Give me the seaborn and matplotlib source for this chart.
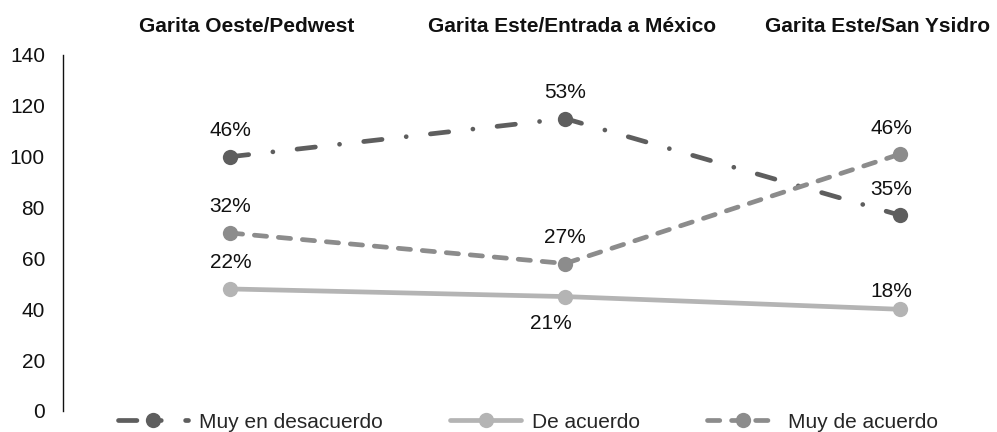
import matplotlib
matplotlib.use("Agg")
import matplotlib.pyplot as plt
import seaborn as sns
import pandas as pd

sns.set_style("white")
plt.rcParams["font.family"] = ["Liberation Sans", "DejaVu Sans"]

categories = ["Garita Oeste/Pedwest", "Garita Este/Entrada a México", "Garita Este/San Ysidro"]
muy_desacuerdo = [100, 115, 77]
de_acuerdo = [48, 45, 40]
muy_acuerdo = [70, 58, 101]
labels_desacuerdo = ["46%", "53%", "35%"]
labels_de_acuerdo = ["22%", "21%", "18%"]
labels_muy_acuerdo = ["32%", "27%", "46%"]

series = [
    ("Muy en desacuerdo", muy_desacuerdo, labels_desacuerdo, "#5e5e5e", (3.9, 5.15, 0.01, 5.15)),
    ("De acuerdo", de_acuerdo, labels_de_acuerdo, "#b4b4b4", None),
    ("Muy de acuerdo", muy_acuerdo, labels_muy_acuerdo, "#8c8c8c", (2.6, 2.5)),
]

fig = plt.figure(figsize=(9.97, 4.32), dpi=100)
ax = fig.add_axes([63 / 997, 21 / 432, 1 - 63 / 997, 356 / 432])

x = list(range(len(categories)))
for name, vals, _, color, dash in series:
    df = pd.DataFrame({"x": x, "y": vals})
    kw = dict(color=color, linewidth=3.4, marker="o", markersize=11,
              markeredgewidth=0, dash_capstyle="round", label=name)
    line = sns.lineplot(data=df, x="x", y="y", ax=ax, **kw).lines[-1]
    if dash is not None:
        line.set_dashes(dash)

# value labels
offsets = {
    "Muy en desacuerdo": [(0, 12), (0, 12), (-6, 12)],
    "De acuerdo": [(0, 12), (-10, -26), (-6, 6)],
    "Muy de acuerdo": [(0, 12), (0, 12), (-6, 12)],
}
for name, vals, labs, _, _ in series:
    for i, (v, t) in enumerate(zip(vals, labs)):
        dx, dy = offsets[name][i]
        ax.annotate(t, (i, v), xytext=(dx, dy), textcoords="offset points",
                    ha="center", va="bottom",
                    fontsize=15, color="#111111")

ax.set_ylim(0, 140)
ax.set_xlim(-0.5, 2.29)
ax.set_yticks(range(0, 141, 20))
ax.set_xticks([])
ax.set_xlabel("")
ax.set_ylabel("")
ax.tick_params(axis="y", labelsize=15, length=0, pad=13, labelcolor="#111111")
for s in ["top", "right", "bottom"]:
    ax.spines[s].set_visible(False)
ax.spines["left"].set_color("#111111")
ax.spines["left"].set_linewidth(1)

# category headers
for xc, cat in zip([247, 572, 878], categories):
    fig.text(xc / 997, 1 - 27 / 432, cat, ha="center", va="center",
             fontsize=15, fontweight="bold", color="#111111")

if ax.get_legend():
    ax.get_legend().remove()
handles, lbls = ax.get_legend_handles_labels()
fig.legend(handles, lbls, ncol=3, loc="center", bbox_to_anchor=(528 / 997, 1 - 422 / 432),
           frameon=False, fontsize=15, handlelength=3.4, columnspacing=3.25,
           handletextpad=0.5, borderpad=0, borderaxespad=0)

fig.savefig("out.png", dpi=100)
